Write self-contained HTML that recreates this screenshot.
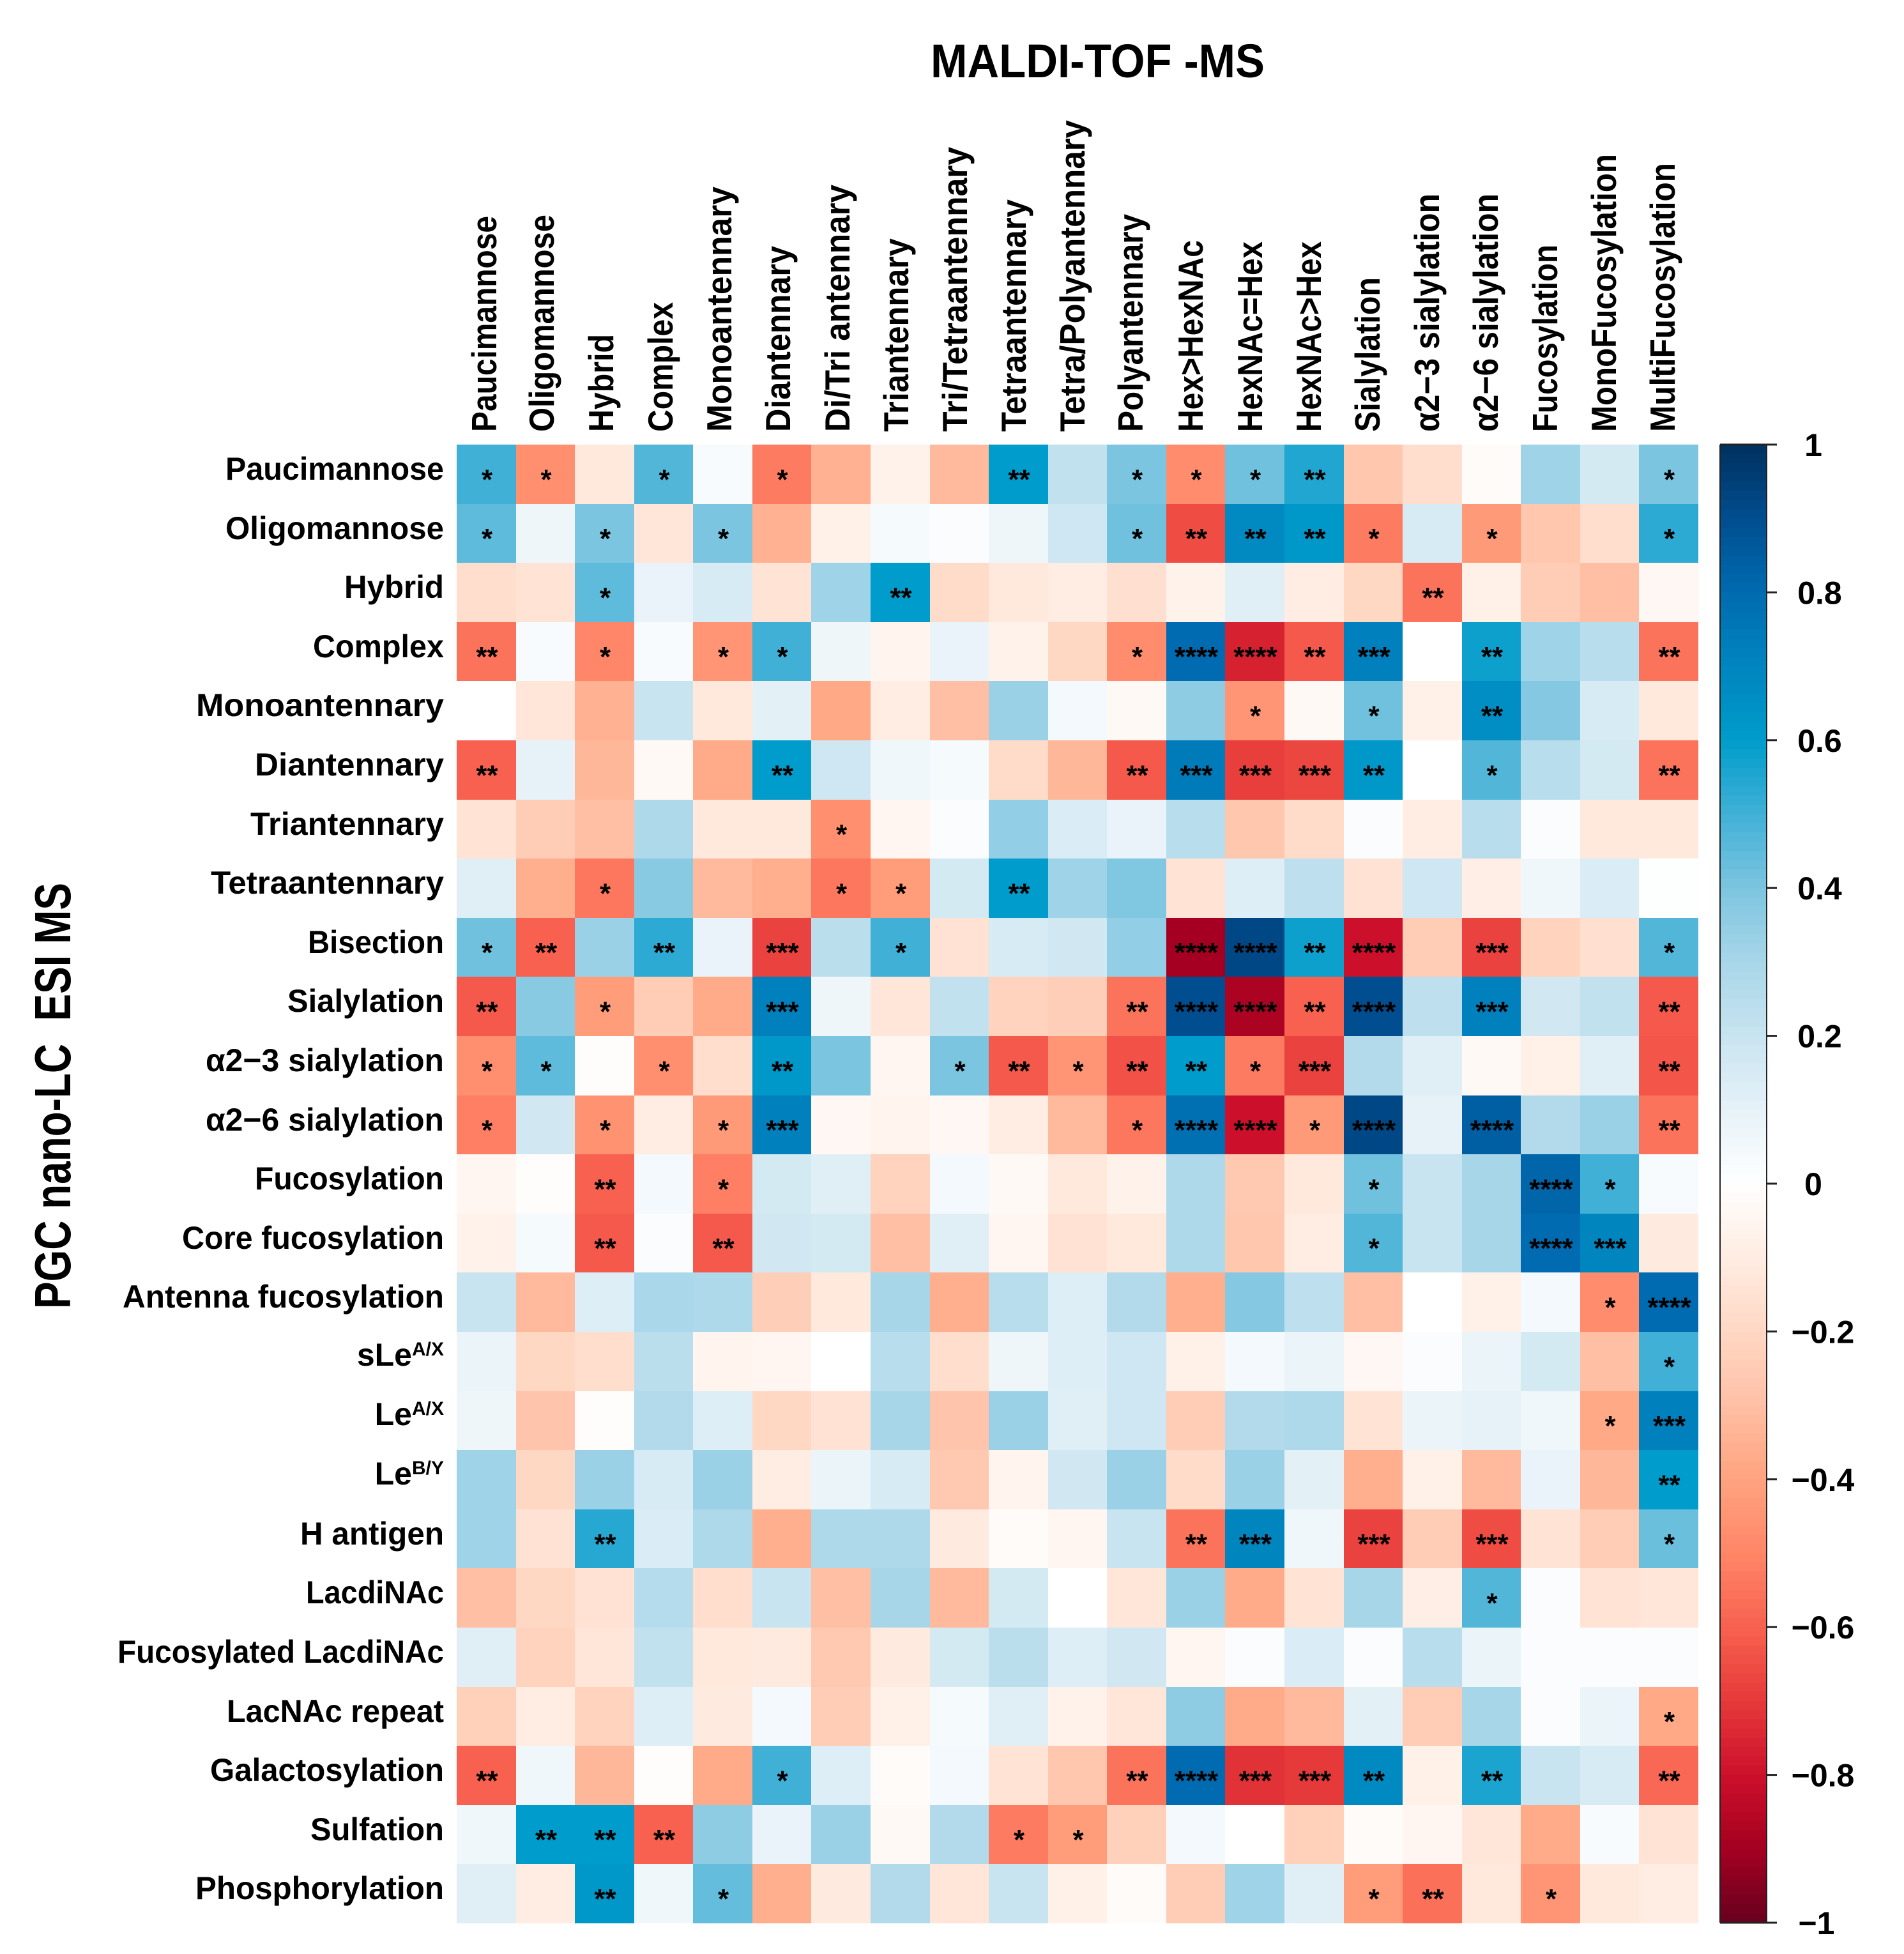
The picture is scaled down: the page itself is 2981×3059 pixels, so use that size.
<!DOCTYPE html>
<html lang="en">
<head>
<meta charset="utf-8">
<title>MALDI-TOF-MS vs PGC nano-LC ESI MS correlation heatmap</title>
<style>
html,body{margin:0;padding:0;background:#fff;}
svg{display:block;}
text{font-family:"Liberation Sans",sans-serif;font-weight:bold;fill:#000;}
.rl{font-size:50px;text-anchor:end;}
.cl{font-size:55px;}
</style>
</head>
<body>
<svg id="chart" xmlns="http://www.w3.org/2000/svg" width="2981" height="3059" viewBox="0 0 2981 3059">
<rect x="0" y="0" width="2981" height="3059" fill="#fff"/>
<text x="1457" y="121" font-size="74" textLength="523" lengthAdjust="spacingAndGlyphs">MALDI-TOF -MS</text>
<text transform="translate(110,2049) rotate(-90)" font-size="80" textLength="667" lengthAdjust="spacingAndGlyphs">PGC nano-LC &#160;ESI MS</text>

<g id="cells"></g>
<g id="stars"></g>

<g>
<text class="cl" transform="translate(777,676) rotate(-90)" textLength="338" lengthAdjust="spacingAndGlyphs">Paucimannose</text>
<text class="cl" transform="translate(867,676) rotate(-90)" textLength="340" lengthAdjust="spacingAndGlyphs">Oligomannose</text>
<text class="cl" transform="translate(960,676) rotate(-90)" textLength="153" lengthAdjust="spacingAndGlyphs">Hybrid</text>
<text class="cl" transform="translate(1053,676) rotate(-90)" textLength="203" lengthAdjust="spacingAndGlyphs">Complex</text>
<text class="cl" transform="translate(1145,676) rotate(-90)" textLength="384" lengthAdjust="spacingAndGlyphs">Monoantennary</text>
<text class="cl" transform="translate(1237,676) rotate(-90)" textLength="291" lengthAdjust="spacingAndGlyphs">Diantennary</text>
<text class="cl" transform="translate(1330,676) rotate(-90)" textLength="387" lengthAdjust="spacingAndGlyphs">Di/Tri antennary</text>
<text class="cl" transform="translate(1422,676) rotate(-90)" textLength="303" lengthAdjust="spacingAndGlyphs">Triantennary</text>
<text class="cl" transform="translate(1514,676) rotate(-90)" textLength="446" lengthAdjust="spacingAndGlyphs">Tri/Tetraantennary</text>
<text class="cl" transform="translate(1606,676) rotate(-90)" textLength="364" lengthAdjust="spacingAndGlyphs">Tetraantennary</text>
<text class="cl" transform="translate(1698,676) rotate(-90)" textLength="488" lengthAdjust="spacingAndGlyphs">Tetra/Polyantennary</text>
<text class="cl" transform="translate(1789,676) rotate(-90)" textLength="341" lengthAdjust="spacingAndGlyphs">Polyantennary</text>
<text class="cl" transform="translate(1883,676) rotate(-90)" textLength="300" lengthAdjust="spacingAndGlyphs">Hex&gt;HexNAc</text>
<text class="cl" transform="translate(1976,676) rotate(-90)" textLength="298" lengthAdjust="spacingAndGlyphs">HexNAc=Hex</text>
<text class="cl" transform="translate(2068,676) rotate(-90)" textLength="298" lengthAdjust="spacingAndGlyphs">HexNAc&gt;Hex</text>
<text class="cl" transform="translate(2160,676) rotate(-90)" textLength="242" lengthAdjust="spacingAndGlyphs">Sialylation</text>
<text class="cl" transform="translate(2253,676) rotate(-90)" textLength="373" lengthAdjust="spacingAndGlyphs">α2−3 sialylation</text>
<text class="cl" transform="translate(2345,676) rotate(-90)" textLength="373" lengthAdjust="spacingAndGlyphs">α2−6 sialylation</text>
<text class="cl" transform="translate(2438,676) rotate(-90)" textLength="293" lengthAdjust="spacingAndGlyphs">Fucosylation</text>
<text class="cl" transform="translate(2530,676) rotate(-90)" textLength="435" lengthAdjust="spacingAndGlyphs">MonoFucosylation</text>
<text class="cl" transform="translate(2622,676) rotate(-90)" textLength="421" lengthAdjust="spacingAndGlyphs">MultiFucosylation</text>
</g>

<g>
<text class="rl" x="695" y="751" textLength="342" lengthAdjust="spacingAndGlyphs">Paucimannose</text>
<text class="rl" x="695" y="844" textLength="342" lengthAdjust="spacingAndGlyphs">Oligomannose</text>
<text class="rl" x="695" y="936" textLength="156" lengthAdjust="spacingAndGlyphs">Hybrid</text>
<text class="rl" x="695" y="1029" textLength="205" lengthAdjust="spacingAndGlyphs">Complex</text>
<text class="rl" x="695" y="1121" textLength="388" lengthAdjust="spacingAndGlyphs">Monoantennary</text>
<text class="rl" x="695" y="1214" textLength="296" lengthAdjust="spacingAndGlyphs">Diantennary</text>
<text class="rl" x="695" y="1307" textLength="303" lengthAdjust="spacingAndGlyphs">Triantennary</text>
<text class="rl" x="695" y="1399" textLength="365" lengthAdjust="spacingAndGlyphs">Tetraantennary</text>
<text class="rl" x="695" y="1492" textLength="213" lengthAdjust="spacingAndGlyphs">Bisection</text>
<text class="rl" x="695" y="1584" textLength="245" lengthAdjust="spacingAndGlyphs">Sialylation</text>
<text class="rl" x="695" y="1677" textLength="373" lengthAdjust="spacingAndGlyphs">α2−3 sialylation</text>
<text class="rl" x="695" y="1770" textLength="373" lengthAdjust="spacingAndGlyphs">α2−6 sialylation</text>
<text class="rl" x="695" y="1862" textLength="296" lengthAdjust="spacingAndGlyphs">Fucosylation</text>
<text class="rl" x="695" y="1955" textLength="410" lengthAdjust="spacingAndGlyphs">Core fucosylation</text>
<text class="rl" x="695" y="2047" textLength="503" lengthAdjust="spacingAndGlyphs">Antenna fucosylation</text>
<text class="rl" x="695" y="2138">sLe<tspan dy="-16" font-size="30">A/X</tspan></text>
<text class="rl" x="695" y="2231">Le<tspan dy="-16" font-size="30">A/X</tspan></text>
<text class="rl" x="695" y="2324">Le<tspan dy="-16" font-size="30">B/Y</tspan></text>
<text class="rl" x="695" y="2418" textLength="225" lengthAdjust="spacingAndGlyphs">H antigen</text>
<text class="rl" x="695" y="2510" textLength="216" lengthAdjust="spacingAndGlyphs">LacdiNAc</text>
<text class="rl" x="695" y="2603" textLength="511" lengthAdjust="spacingAndGlyphs">Fucosylated LacdiNAc</text>
<text class="rl" x="695" y="2696" textLength="340" lengthAdjust="spacingAndGlyphs">LacNAc repeat</text>
<text class="rl" x="695" y="2788" textLength="366" lengthAdjust="spacingAndGlyphs">Galactosylation</text>
<text class="rl" x="695" y="2881" textLength="209" lengthAdjust="spacingAndGlyphs">Sulfation</text>
<text class="rl" x="695" y="2973" textLength="389" lengthAdjust="spacingAndGlyphs">Phosphorylation</text>
</g>

<g id="colorbar"></g>
</svg>

<script>
const rowCategories = ["Paucimannose","Oligomannose","Hybrid","Complex","Monoantennary","Diantennary","Triantennary","Tetraantennary","Bisection","Sialylation","a2-3 sialylation","a2-6 sialylation","Fucosylation","Core fucosylation","Antenna fucosylation","sLeA/X","LeA/X","LeB/Y","H antigen","LacdiNAc","Fucosylated LacdiNAc","LacNAc repeat","Galactosylation","Sulfation","Phosphorylation"];
const columnCategories = ["Paucimannose","Oligomannose","Hybrid","Complex","Monoantennary","Diantennary","Di/Tri antennary","Triantennary","Tri/Tetraantennary","Tetraantennary","Tetra/Polyantennary","Polyantennary","Hex>HexNAc","HexNAc=Hex","HexNAc>Hex","Sialylation","a2-3 sialylation","a2-6 sialylation","Fucosylation","MonoFucosylation","MultiFucosylation"];
const correlations = [
[0.5,-0.47,-0.12,0.47,0.03,-0.53,-0.35,-0.07,-0.32,0.6,0.22,0.4,-0.48,0.42,0.55,-0.27,-0.17,-0.02,0.32,0.16,0.4],
[0.45,0.07,0.4,-0.13,0.4,-0.35,-0.08,0.04,0.02,0.07,0.18,0.42,-0.65,0.68,0.62,-0.53,0.15,-0.43,-0.27,-0.17,0.53],
[-0.17,-0.14,0.45,0.09,0.15,-0.14,0.32,0.6,-0.18,-0.12,-0.1,-0.16,-0.07,0.12,-0.1,-0.2,-0.55,-0.08,-0.25,-0.3,-0.04],
[-0.55,0.03,-0.5,0.03,-0.45,0.5,0.07,-0.06,0.09,-0.07,-0.2,-0.48,0.8,-0.76,-0.62,0.72,0,0.58,0.32,0.25,-0.55],
[0,-0.13,-0.35,0.2,-0.12,0.11,-0.38,-0.1,-0.3,0.33,0.05,-0.03,0.36,-0.45,-0.03,0.42,-0.08,0.66,0.38,0.15,-0.12],
[-0.6,0.1,-0.33,-0.03,-0.37,0.6,0.18,0.06,0.04,-0.18,-0.33,-0.62,0.74,-0.69,-0.67,0.62,0,0.47,0.25,0.16,-0.55],
[-0.14,-0.25,-0.3,0.28,-0.12,-0.12,-0.47,-0.05,0.02,0.35,0.14,0.09,0.25,-0.27,-0.18,0.02,-0.1,0.25,0.02,-0.12,-0.12],
[0.12,-0.36,-0.54,0.37,-0.32,-0.36,-0.54,-0.42,0.16,0.6,0.32,0.39,-0.14,0.13,0.23,-0.15,0.18,-0.09,0.06,0.14,0.01],
[0.42,-0.6,0.33,0.53,0.09,-0.68,0.24,0.5,-0.15,0.15,0.17,0.35,-0.9,0.92,0.58,-0.8,-0.25,-0.68,-0.22,-0.16,0.47],
[-0.62,0.37,-0.42,-0.25,-0.37,0.72,0.07,-0.13,0.22,-0.22,-0.24,-0.55,0.9,-0.88,-0.6,0.9,0.23,0.72,0.17,0.22,-0.62],
[-0.47,0.45,-0.01,-0.47,-0.17,0.62,0.4,-0.05,0.4,-0.62,-0.45,-0.64,0.6,-0.53,-0.68,0.27,0.12,-0.03,-0.08,0.12,-0.63],
[-0.52,0.17,-0.46,-0.1,-0.43,0.72,-0.04,-0.06,-0.04,-0.1,-0.32,-0.54,0.78,-0.8,-0.43,0.92,0.1,0.84,0.27,0.33,-0.55],
[-0.05,-0.01,-0.6,0.05,-0.52,0.16,0.12,-0.22,0.05,-0.03,-0.12,-0.07,0.28,-0.26,-0.12,0.42,0.2,0.3,0.82,0.5,0.03],
[-0.07,0.04,-0.62,0.02,-0.62,0.17,0.16,-0.3,0.12,-0.05,-0.15,-0.12,0.28,-0.27,-0.1,0.47,0.2,0.3,0.8,0.7,-0.11],
[0.2,-0.32,0.13,0.29,0.28,-0.24,-0.12,0.3,-0.36,0.25,0.13,0.27,-0.36,0.38,0.23,-0.3,0,-0.08,0.05,-0.48,0.8],
[0.08,-0.2,-0.17,0.24,-0.06,-0.05,0,0.25,-0.17,0.07,0.13,0.18,-0.08,0.05,0.08,-0.04,0.02,0.08,0.16,-0.3,0.5],
[0.07,-0.28,-0.01,0.27,0.13,-0.2,-0.15,0.3,-0.28,0.33,0.12,0.18,-0.25,0.27,0.28,-0.14,0.08,0.1,0.06,-0.38,0.72],
[0.32,-0.2,0.33,0.15,0.33,-0.1,0.08,0.15,-0.26,-0.06,0.17,0.33,-0.18,0.33,0.11,-0.36,-0.08,-0.32,0.09,-0.33,0.6],
[0.32,-0.15,0.54,0.14,0.28,-0.36,0.28,0.28,-0.11,-0.02,-0.05,0.2,-0.55,0.7,0.06,-0.68,-0.25,-0.65,-0.14,-0.25,0.43],
[-0.3,-0.2,-0.15,0.26,-0.17,0.2,-0.3,0.3,-0.32,0.16,0,-0.13,0.33,-0.37,-0.14,0.3,-0.09,0.47,0.02,-0.14,-0.13],
[0.12,-0.22,-0.13,0.22,-0.12,-0.11,-0.26,-0.11,0.16,0.24,0.13,0.17,-0.05,0.02,0.14,0.02,0.25,0.08,0.02,0.02,0.02],
[-0.23,-0.1,-0.22,0.13,-0.11,0.05,-0.25,-0.08,0.04,0.12,-0.07,-0.13,0.36,-0.37,-0.32,0.11,-0.25,0.3,0.02,0.08,-0.38],
[-0.6,0.06,-0.33,-0.01,-0.37,0.5,0.13,-0.02,0.05,-0.14,-0.27,-0.55,0.8,-0.72,-0.7,0.68,-0.08,0.56,0.2,0.15,-0.58],
[0.06,0.6,0.6,-0.6,0.36,0.09,0.33,-0.03,0.27,-0.53,-0.42,-0.23,0.05,0,-0.23,-0.02,-0.05,-0.13,-0.37,0.03,-0.14],
[0.12,-0.1,0.62,0.06,0.44,-0.36,-0.11,0.27,-0.13,0.2,-0.08,-0.02,-0.25,0.32,0.12,-0.42,-0.56,-0.12,-0.45,-0.12,-0.1]
];
const significance = [
[1,1,0,1,0,1,0,0,0,2,0,1,1,1,2,0,0,0,0,0,1],
[1,0,1,0,1,0,0,0,0,0,0,1,2,2,2,1,0,1,0,0,1],
[0,0,1,0,0,0,0,2,0,0,0,0,0,0,0,0,2,0,0,0,0],
[2,0,1,0,1,1,0,0,0,0,0,1,4,4,2,3,0,2,0,0,2],
[0,0,0,0,0,0,0,0,0,0,0,0,0,1,0,1,0,2,0,0,0],
[2,0,0,0,0,2,0,0,0,0,0,2,3,3,3,2,0,1,0,0,2],
[0,0,0,0,0,0,1,0,0,0,0,0,0,0,0,0,0,0,0,0,0],
[0,0,1,0,0,0,1,1,0,2,0,0,0,0,0,0,0,0,0,0,0],
[1,2,0,2,0,3,0,1,0,0,0,0,4,4,2,4,0,3,0,0,1],
[2,0,1,0,0,3,0,0,0,0,0,2,4,4,2,4,0,3,0,0,2],
[1,1,0,1,0,2,0,0,1,2,1,2,2,1,3,0,0,0,0,0,2],
[1,0,1,0,1,3,0,0,0,0,0,1,4,4,1,4,0,4,0,0,2],
[0,0,2,0,1,0,0,0,0,0,0,0,0,0,0,1,0,0,4,1,0],
[0,0,2,0,2,0,0,0,0,0,0,0,0,0,0,1,0,0,4,3,0],
[0,0,0,0,0,0,0,0,0,0,0,0,0,0,0,0,0,0,0,1,4],
[0,0,0,0,0,0,0,0,0,0,0,0,0,0,0,0,0,0,0,0,1],
[0,0,0,0,0,0,0,0,0,0,0,0,0,0,0,0,0,0,0,1,3],
[0,0,0,0,0,0,0,0,0,0,0,0,0,0,0,0,0,0,0,0,2],
[0,0,2,0,0,0,0,0,0,0,0,0,2,3,0,3,0,3,0,0,1],
[0,0,0,0,0,0,0,0,0,0,0,0,0,0,0,0,0,1,0,0,0],
[0,0,0,0,0,0,0,0,0,0,0,0,0,0,0,0,0,0,0,0,0],
[0,0,0,0,0,0,0,0,0,0,0,0,0,0,0,0,0,0,0,0,1],
[2,0,0,0,0,1,0,0,0,0,0,2,4,3,3,2,0,2,0,0,2],
[0,2,2,2,0,0,0,0,0,1,1,0,0,0,0,0,0,0,0,0,0],
[0,0,2,0,1,0,0,0,0,0,0,0,0,0,0,1,2,0,1,0,0]
];
const colorbarTicks = [1,0.8,0.6,0.4,0.2,0,-0.2,-0.4,-0.6,-0.8,-1];
const colorbarTickLabels = ["1","0.8","0.6","0.4","0.2","0","−0.2","−0.4","−0.6","−0.8","−1"];

const NS = "http://www.w3.org/2000/svg";
const PLOT_LEFT = 715, PLOT_RIGHT = 2659, PLOT_TOP = 696, PLOT_BOTTOM = 3011;
const BAR_LEFT = 2693, BAR_RIGHT = 2766, BAR_TOP = 696, BAR_BOTTOM = 3010;
const RAMP = [
[-1,103,0,31],[-0.9,165,0,33],[-0.8,204,16,43],[-0.7,230,58,58],[-0.6,248,97,79],[-0.5,255,134,104],
[-0.4,255,163,127],[-0.3,255,191,165],[-0.2,255,216,196],[-0.1,255,236,226],[0,255,255,255],
[0.1,230,242,248],[0.2,200,228,240],[0.3,168,214,233],[0.4,124,197,224],[0.5,64,176,214],
[0.6,0,156,203],[0.7,0,133,191],[0.8,0,107,176],[0.9,0,78,143],[1,0,48,95]
];

function colorOf(v){
  const c = Math.max(-1, Math.min(1, v));
  for (let i = 0; i < RAMP.length - 1; i++) {
    const a = RAMP[i], b = RAMP[i + 1];
    if (c <= b[0]) {
      const t = (c - a[0]) / (b[0] - a[0]);
      return "rgb(" + [1,2,3].map(k => Math.round(a[k] + (b[k] - a[k]) * t)).join(",") + ")";
    }
  }
  return "rgb(0,48,95)";
}
const xScale = i => PLOT_LEFT + i * (PLOT_RIGHT - PLOT_LEFT) / columnCategories.length;
const yScale = j => PLOT_TOP + j * (PLOT_BOTTOM - PLOT_TOP) / rowCategories.length;
const barY = v => BAR_TOP + (1 - v) / 2 * (BAR_BOTTOM - BAR_TOP);

const cellsGroup = document.getElementById("cells");
const starsGroup = document.getElementById("stars");
correlations.forEach((row, r) => {
  row.forEach((value, c) => {
    const x0 = Math.round(xScale(c)), x1 = Math.round(xScale(c + 1));
    const y0 = Math.round(yScale(r)), y1 = Math.round(yScale(r + 1));
    const cell = document.createElementNS(NS, "rect");
    cell.setAttribute("x", x0);
    cell.setAttribute("y", y0);
    cell.setAttribute("width", x1 - x0);
    cell.setAttribute("height", y1 - y0);
    cell.setAttribute("fill", colorOf(value));
    
    
    cellsGroup.appendChild(cell);
    const n = significance[r][c];
    if (n > 0) {
      const star = document.createElementNS(NS, "text");
      star.setAttribute("x", (x0 + x1) / 2 + 1);
      star.setAttribute("y", (y0 + y1) / 2 + 23);
      star.setAttribute("text-anchor", "middle");
      star.setAttribute("font-size", "44");
      star.textContent = "*".repeat(n);
      
      
      starsGroup.appendChild(star);
    }
  });
});

const bar = document.getElementById("colorbar");
const LEVELS = 160;
for (let i = 0; i < LEVELS; i++) {
  const hi = 1 - 2 * i / LEVELS, lo = 1 - 2 * (i + 1) / LEVELS;
  const seg = document.createElementNS(NS, "rect");
  seg.setAttribute("x", BAR_LEFT);
  seg.setAttribute("y", barY(hi));
  seg.setAttribute("width", BAR_RIGHT - BAR_LEFT);
  seg.setAttribute("height", barY(lo) - barY(hi) + 1);
  seg.setAttribute("fill", colorOf((hi + lo) / 2));
  
  
  bar.appendChild(seg);
}
[BAR_LEFT, BAR_RIGHT].forEach(x => {
  const edge = document.createElementNS(NS, "line");
  edge.setAttribute("x1", x);
  edge.setAttribute("x2", x);
  edge.setAttribute("y1", BAR_TOP);
  edge.setAttribute("y2", BAR_BOTTOM);
  edge.setAttribute("stroke", "#222");
  edge.setAttribute("stroke-width", "2");
  
  
  bar.appendChild(edge);
});
colorbarTicks.forEach((v, i) => {
  const y = barY(v);
  const tick = document.createElementNS(NS, "line");
  tick.setAttribute("x1", (v === 1 || v === -1) ? BAR_LEFT : BAR_RIGHT);
  tick.setAttribute("x2", BAR_RIGHT + 16);
  tick.setAttribute("y1", y);
  tick.setAttribute("y2", y);
  tick.setAttribute("stroke", "#222");
  tick.setAttribute("stroke-width", "3");
  
  
  bar.appendChild(tick);
  const label = document.createElementNS(NS, "text");
  const s = colorbarTickLabels[i];
  label.setAttribute("x", 2834 + 5 * s.length);
  label.setAttribute("y", y + 18);
  label.setAttribute("text-anchor", "middle");
  label.setAttribute("font-size", "50");
  label.textContent = s;
  
  
  bar.appendChild(label);
});
</script>
</body>
</html>
